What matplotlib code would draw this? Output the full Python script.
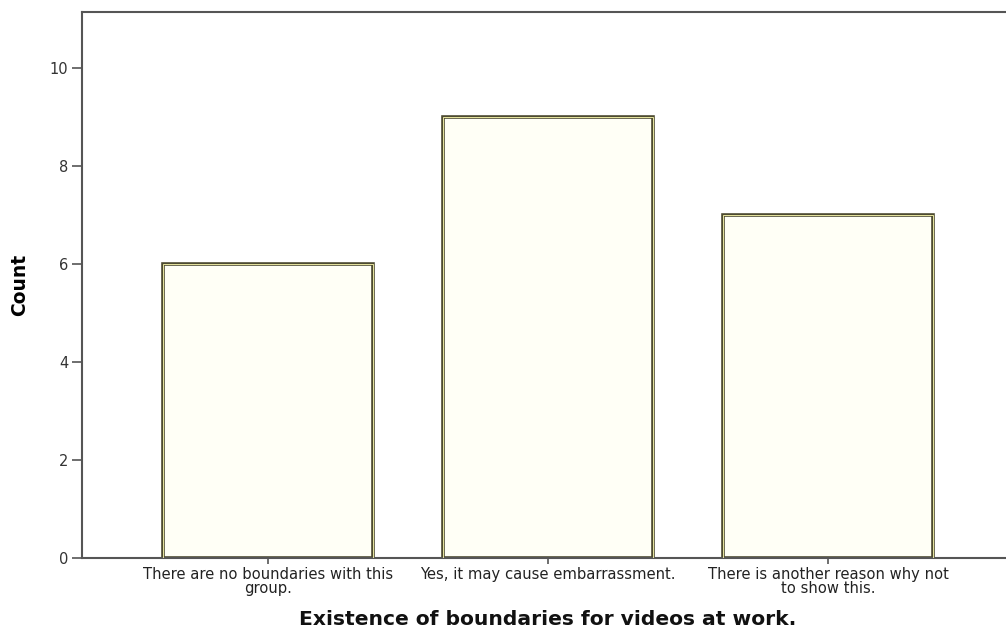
import matplotlib
matplotlib.use("Agg")
import matplotlib.pyplot as plt

categories = [
    "There are no boundaries with this\ngroup.",
    "Yes, it may cause embarrassment.",
    "There is another reason why not\nto show this.",
]
counts = [6, 9, 7]
y_ticks = [0, 2, 4, 6, 8, 10]

fig = plt.figure(figsize=(10.06, 6.33), dpi=100)
fig.patch.set_facecolor("white")
ax = fig.add_axes([82 / 1006, 75 / 633, 932 / 1006, 546 / 633])

x = list(range(len(categories)))
# outer dark outline with a thin yellowish inner line
ax.bar(x, counts, width=0.75, facecolor="#fffff6", edgecolor="#4d4a30",
       linewidth=2.6, zorder=2)
ax.bar(x, counts, width=0.75, facecolor="none", edgecolor="#e8e6a0",
       linewidth=0.7, zorder=3)

ax.set_xlim(-0.664, 2.664)
ax.set_ylim(0, 11.14)
ax.set_xticks(x)
ax.set_xticklabels(categories, fontsize=10.6, color="#222222", linespacing=0.95)
ax.set_yticks(y_ticks)
ax.set_yticklabels([str(v) for v in y_ticks], fontsize=10.5, color="#333333")
ax.tick_params(axis="y", direction="out", length=7, width=1.2, color="#555555", pad=3)
ax.tick_params(axis="x", direction="out", length=4.5, width=1.2, color="#555555", pad=2)

for s in ax.spines.values():
    s.set_color("#555555")
    s.set_linewidth(1.5)

ax.set_ylabel("Count", fontsize=13.5, fontweight="bold",
              family=["Liberation Sans Narrow", "DejaVu Sans"], labelpad=15)
ax.set_xlabel("Existence of boundaries for videos at work.", fontsize=14.6,
              fontweight="bold", labelpad=10, color="#111111")

fig.savefig("out.png", dpi=100, facecolor="white")
